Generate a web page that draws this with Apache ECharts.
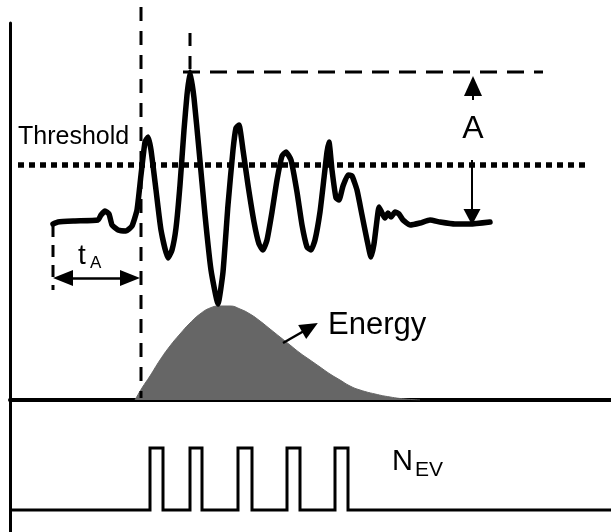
<!DOCTYPE html>
<html><head><meta charset="utf-8">
<script src="https://cdn.jsdelivr.net/npm/echarts@6/dist/echarts.min.js"></script>
<style>html,body{margin:0;padding:0;background:#fff}#c{width:611px;height:532px}</style>
</head><body><div id="c"></div>
<script>
// ---- Data (schematic time units; amplitude relative to baseline) ----
const waveTime = [53,58,75,98,101,105,109,112,118,126,132,137,141,145,148,151,156,161,168,172,176,180,184,187,190,194,199,205,211,218,223,228,233,236,239,243,248,254,259,263,267,272,277,282,286,291,297,302,307,311,315,320,324,327,329,332,336,339,343,348,352,357,362,367,371,374,377,379,382,385,388,391,395,399,403,410,420,430,440,455,470,490];
const waveAmp  = [-2,0,1,2,7,11,8,-3,-8,-9,-4,12,47,80,85,72,32,-8,-36,-28,-6,37,92,127,150,124,72,7,-48,-82,-50,17,72,94,97,72,37,0,-22,-28,-18,10,42,66,70,62,30,-3,-25,-28,-18,10,44,70,80,52,24,22,36,47,46,32,7,-18,-35,-22,2,15,9,4,9,5,10,8,2,-3,-1,2,0,-2,-2,0];
const threshold = 57;          // threshold level
const peakAmp = 150;           // peak amplitude A
const startTime = 53;          // start of record
const triggerTime = 141;       // first threshold crossing
const peakTime = 190;          // time of peak
const energyTime  = [135,142,150,160,170,180,190,200,210,220,230,240,250,260,270,280,290,300,310,320,330,340,350,360,375,390,405,420];
const energyValue = [0,12,24,40,54,66,77,86,92,94,94,91,86,79,71,63,55,47,40,33,26,20,14,10,6,3,1,0];
const pulseRise = [150,190,238,287,335];
const pulseFall = [163,202,252,300,348];
const timeMin = 10, timeMax = 611;
const labels = { threshold: 'Threshold', amp: 'A', ta: 't', taSub: 'A', energy: 'Energy', nev: 'N', nevSub: 'EV' };

// ---- Build series data ----
const wave = waveTime.map((t, i) => [t, waveAmp[i]]);
const energy = energyTime.map((t, i) => [t, energyValue[i]]);
const pulses = [[timeMin, 0]];
pulseRise.forEach((r, i) => { pulses.push([r, 0], [r, 1], [pulseFall[i], 1], [pulseFall[i], 0]); });
pulses.push([timeMax, 0]);

const FONT = '"Liberation Sans", Arial, Helvetica, sans-serif';
const K = '#000';
const GRAY = '#666666';
const hiddenX = (gi) => ({ type: 'value', gridIndex: gi, min: timeMin, max: timeMax, show: false });
function seg(data, dash, width, extra) {
  return Object.assign({
    type: 'line', xAxisIndex: 0, yAxisIndex: 0, data: data, symbol: 'none', silent: true, clip: false,
    lineStyle: { color: K, width: width, type: dash, cap: 'butt' }, z: 3
  }, extra || {});
}
function arrow(from, to, symbols, size, width) {
  return [
    { coord: from, symbol: symbols[0], symbolSize: size, lineStyle: { color: K, width: width, type: 'solid' }, itemStyle: { color: K } },
    { coord: to, symbol: symbols[1], symbolSize: size, itemStyle: { color: K } }
  ];
}

const chart = echarts.init(document.getElementById('c'), null, { renderer: 'canvas' });
chart.setOption({
  animation: false,
  backgroundColor: '#fff',
  grid: [
    { left: 10, right: 0, top: 23, height: 509 },   // waveform
    { left: 10, right: 0, top: 0, height: 400 },    // energy
    { left: 10, right: 0, top: 448, height: 62 }    // counts
  ],
  xAxis: [
    hiddenX(0),
    { type: 'value', gridIndex: 1, min: timeMin, max: timeMax, axisLine: { show: true, lineStyle: { color: K, width: 4 } },
      axisTick: { show: false }, axisLabel: { show: false }, splitLine: { show: false } },
    hiddenX(2)
  ],
  yAxis: [
    { type: 'value', gridIndex: 0, min: -310, max: 199, axisLine: { show: true, lineStyle: { color: K, width: 3 } },
      axisTick: { show: false }, axisLabel: { show: false }, splitLine: { show: false } },
    { type: 'value', gridIndex: 1, min: 0, max: 400, show: false },
    { type: 'value', gridIndex: 2, min: 0, max: 1, show: false }
  ],
  series: [
    { type: 'line', xAxisIndex: 1, yAxisIndex: 1, data: energy, smooth: true, symbol: 'none', silent: true,
      lineStyle: { width: 1, color: GRAY }, areaStyle: { color: GRAY, opacity: 1 }, z: 1,
      markLine: { silent: true, animation: false, label: { show: false }, emphasis: { disabled: true },
        data: [ arrow([283, 57], [310, 72.5], ['none', 'triangle'], [16, 18], 2.5) ] } },
    seg([[triggerTime, 215], [triggerTime, -176]], [14, 10], 3),
    seg([[peakTime, 189], [peakTime, peakAmp]], [13, 10], 3),
    seg([[183, peakAmp], [543, peakAmp]], [17, 10], 3),
    seg([[18, threshold], [585, threshold]], [6, 5], 5.5),
    seg([[startTime, -3], [startTime, -68]], [12, 8], 3),
    { type: 'line', xAxisIndex: 0, yAxisIndex: 0, data: wave, smooth: 0.15, symbol: 'none', silent: true, clip: false,
      lineStyle: { color: K, width: 5.5, cap: 'round', join: 'round' }, z: 5,
      markLine: { silent: true, animation: false, label: { show: false }, emphasis: { disabled: true },
        data: [
          arrow([473, 122], [473, 136], ['none', 'triangle'], [18, 20], 2),
          arrow([472, 62], [472, 5], ['none', 'triangle'], [17, 16], 2),
          arrow([63, -56], [130, -56], ['triangle', 'triangle'], [16, 20], 2.5)
        ] } },
    { type: 'line', xAxisIndex: 2, yAxisIndex: 2, data: pulses, symbol: 'none', silent: true, clip: false,
      lineStyle: { color: K, width: 3, join: 'miter' }, z: 3 }
  ],
  graphic: [
    { type: 'text', x: 18, y: 137, style: { text: labels.threshold, font: '25px ' + FONT, fill: K, verticalAlign: 'middle' } },
    { type: 'text', x: 473, y: 129, style: { text: labels.amp, font: '32px ' + FONT, fill: K, align: 'center', verticalAlign: 'middle' } },
    { type: 'text', x: 78, y: 256, style: { text: labels.ta, font: '28px ' + FONT, fill: K, verticalAlign: 'middle' } },
    { type: 'text', x: 90, y: 263, style: { text: labels.taSub, font: '17px ' + FONT, fill: K, verticalAlign: 'middle' } },
    { type: 'text', x: 328, y: 325, style: { text: labels.energy, font: '31px ' + FONT, fill: K, verticalAlign: 'middle' } },
    { type: 'text', x: 392, y: 462, style: { text: labels.nev, font: '29px ' + FONT, fill: K, verticalAlign: 'middle' } },
    { type: 'text', x: 415, y: 470, style: { text: labels.nevSub, font: '21px ' + FONT, fill: K, verticalAlign: 'middle' } }
  ]
});
</script>
</body></html>
